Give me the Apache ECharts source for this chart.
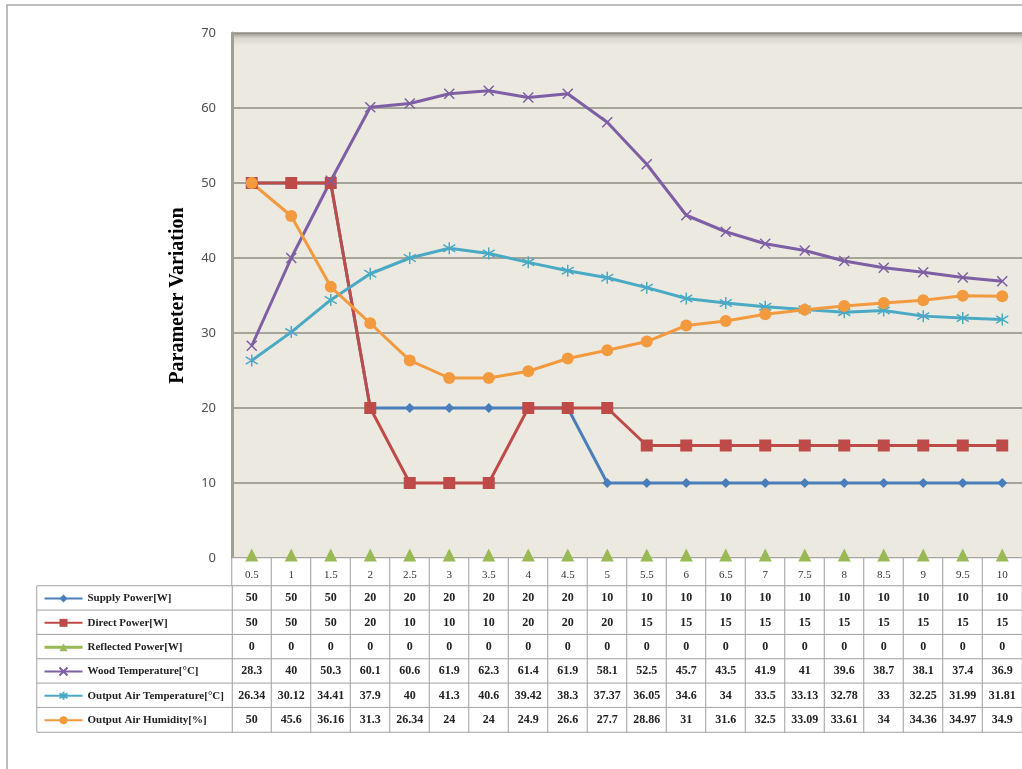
<!DOCTYPE html>
<html>
<head>
<meta charset="utf-8">
<script src="https://cdn.jsdelivr.net/npm/echarts@6/dist/echarts.min.js"></script>
<style>
html,body{margin:0;padding:0;background:#fff;}
#chart{width:1022px;height:769px;}
</style>
</head>
<body>
<div id="chart"></div>
<script>
// ---- data ----
var categories = ['0.5','1','1.5','2','2.5','3','3.5','4','4.5','5','5.5','6','6.5','7','7.5','8','8.5','9','9.5','10'];
var seriesNames = ['Supply Power[W]','Direct Power[W]','Reflected Power[W]','Wood Temperature[°C]','Output Air Temperature[°C]','Output Air Humidity[%]'];
var supplyPower = [50,50,50,20,20,20,20,20,20,10,10,10,10,10,10,10,10,10,10,10];
var directPower = [50,50,50,20,10,10,10,20,20,20,15,15,15,15,15,15,15,15,15,15];
var reflectedPower = [0,0,0,0,0,0,0,0,0,0,0,0,0,0,0,0,0,0,0,0];
var woodTemp = [28.3,40,50.3,60.1,60.6,61.9,62.3,61.4,61.9,58.1,52.5,45.7,43.5,41.9,41,39.6,38.7,38.1,37.4,36.9];
var outAirTemp = [26.34,30.12,34.41,37.9,40,41.3,40.6,39.42,38.3,37.37,36.05,34.6,34,33.5,33.13,32.78,33,32.25,31.99,31.81];
var outAirHumidity = [50,45.6,36.16,31.3,26.34,24,24,24.9,26.6,27.7,28.86,31,31.6,32.5,33.09,33.61,34,34.36,34.97,34.9];
var yTicks = {min:0, max:70, interval:10};

var allValues = [supplyPower, directPower, reflectedPower, woodTemp, outAirTemp, outAirHumidity];
var colors = ['#4A7EBB','#BE4B48','#98B954','#7E5EA4','#4AA9C4','#F39A3F'];
var symbols = ['diamond','rect','triangle','path://M0,0L10,10M10,0L0,10','path://M5,0L5,10M0,2L10,8M0,8L10,2','circle'];
var symbolSizes = [10,12,13,10,12,12];

var chart = echarts.init(document.getElementById('chart'));

var lineSeries = seriesNames.map(function(name, i){
  var isPath = symbols[i].indexOf('path://') === 0;
  var s = {
    name: name,
    type: 'line',
    xAxisIndex: 0, yAxisIndex: 0,
    data: allValues[i],
    symbol: symbols[i],
    symbolSize: symbolSizes[i],
    showAllSymbol: true,
    lineStyle: {color: colors[i], width: 3},
    itemStyle: isPath ? {color: 'rgba(0,0,0,0)', borderColor: colors[i], borderWidth: 1.5}
                      : {color: colors[i], borderColor: colors[i], borderWidth: 0},
    emphasis: {disabled: true},
    z: 3
  };
  if (i === 2) { s.clip = false; s.symbolOffset = [0, -3]; s.lineStyle.opacity = 0; }
  return s;
});

var legendData = seriesNames.map(function(name, i){
  if (i === 2) return {name: name, lineStyle: {color: colors[i], width: 3, opacity: 1}};
  return {name: name};
});

// table data
var headerData = categories.map(function(c, j){ return [j, 0, c]; });
var cellData = [];
seriesNames.forEach(function(name, i){
  allValues[i].forEach(function(v, j){ cellData.push([j, i, String(v)]); });
});
var nameCellData = seriesNames.map(function(n, i){ return [0, i, '']; });

var cellStyle = {color: '#ffffff', borderColor: '#A3A3A3', borderWidth: 1};
var serif = 'Liberation Serif, Times New Roman, serif';

var option = {
  animation: false,
  backgroundColor: '#ffffff',
  color: colors,
  graphic: [{
    type: 'rect', shape: {x: 7, y: 5, width: 1200, height: 900},
    style: {fill: 'none', stroke: '#A8A8A8', lineWidth: 1.5}, silent: true, z: 0
  }],
  legend: {
    data: legendData,
    orient: 'vertical',
    left: 38, top: 588,
    itemWidth: 38, itemHeight: 10, itemGap: 13.33,
    selectedMode: false,
    textStyle: {fontFamily: serif, fontWeight: 'bold', fontSize: 11, lineHeight: 11, color: '#222'},
    z: 10
  },
  grid: [
    {left: 232, top: 33, width: 800, height: 525, show: true, borderWidth: 0,
     backgroundColor: new echarts.graphic.LinearGradient(0, 0, 0, 1, [
       {offset: 0, color: '#9A988E'},
       {offset: 0.01, color: '#D9D7CC'},
       {offset: 0.025, color: '#ECEAE0'},
       {offset: 1, color: '#ECEAE0'}
     ])},
    {left: 232, top: 558, width: 800, height: 28},
    {left: 232, top: 586, width: 800, height: 146},
    {left: 37, top: 586, width: 195, height: 146}
  ],
  xAxis: [
    {gridIndex: 0, type: 'category', data: categories, boundaryGap: true,
     axisLine: {show: true, lineStyle: {color: '#8E8C82', width: 2}},
     axisTick: {show: false}, axisLabel: {show: false}, splitLine: {show: false}},
    {gridIndex: 1, type: 'category', data: categories, show: false},
    {gridIndex: 2, type: 'category', data: categories, show: false},
    {gridIndex: 3, type: 'category', data: ['n'], show: false}
  ],
  yAxis: [
    {gridIndex: 0, type: 'value', min: yTicks.min, max: yTicks.max, interval: yTicks.interval,
     name: 'Parameter Variation', nameLocation: 'middle', nameGap: 44,
     nameTextStyle: {fontFamily: serif, fontWeight: 'bold', fontSize: 20, color: '#000'},
     axisLine: {show: true, lineStyle: {color: '#A09E95', width: 3}},
     axisTick: {show: false},
     axisLabel: {margin: 16, fontFamily: 'Noto Sans, sans-serif', fontSize: 13, color: '#505050'},
     splitLine: {show: true, lineStyle: {color: '#8E8C82', width: 1.5}}},
    {gridIndex: 1, type: 'category', data: ['h'], show: false},
    {gridIndex: 2, type: 'category', data: seriesNames, inverse: true, show: false},
    {gridIndex: 3, type: 'category', data: seriesNames, inverse: true, show: false}
  ],
  series: lineSeries.concat([
    {type: 'heatmap', xAxisIndex: 1, yAxisIndex: 1, data: headerData, z: 1,
     itemStyle: cellStyle, emphasis: {disabled: true},
     label: {show: true, formatter: function(p){ return p.value[2]; }, offset: [0, 3],
             fontFamily: serif, fontSize: 11, color: '#333'}},
    {type: 'heatmap', xAxisIndex: 2, yAxisIndex: 2, data: cellData, z: 1,
     itemStyle: cellStyle, emphasis: {disabled: true},
     label: {show: true, formatter: function(p){ return p.value[2]; },
             fontFamily: serif, fontWeight: 'bold', fontSize: 12, color: '#222'}},
    {type: 'heatmap', xAxisIndex: 3, yAxisIndex: 3, data: nameCellData, z: 1,
     itemStyle: cellStyle, emphasis: {disabled: true}, label: {show: false}}
  ])
};
chart.setOption(option);
</script>
</body>
</html>
